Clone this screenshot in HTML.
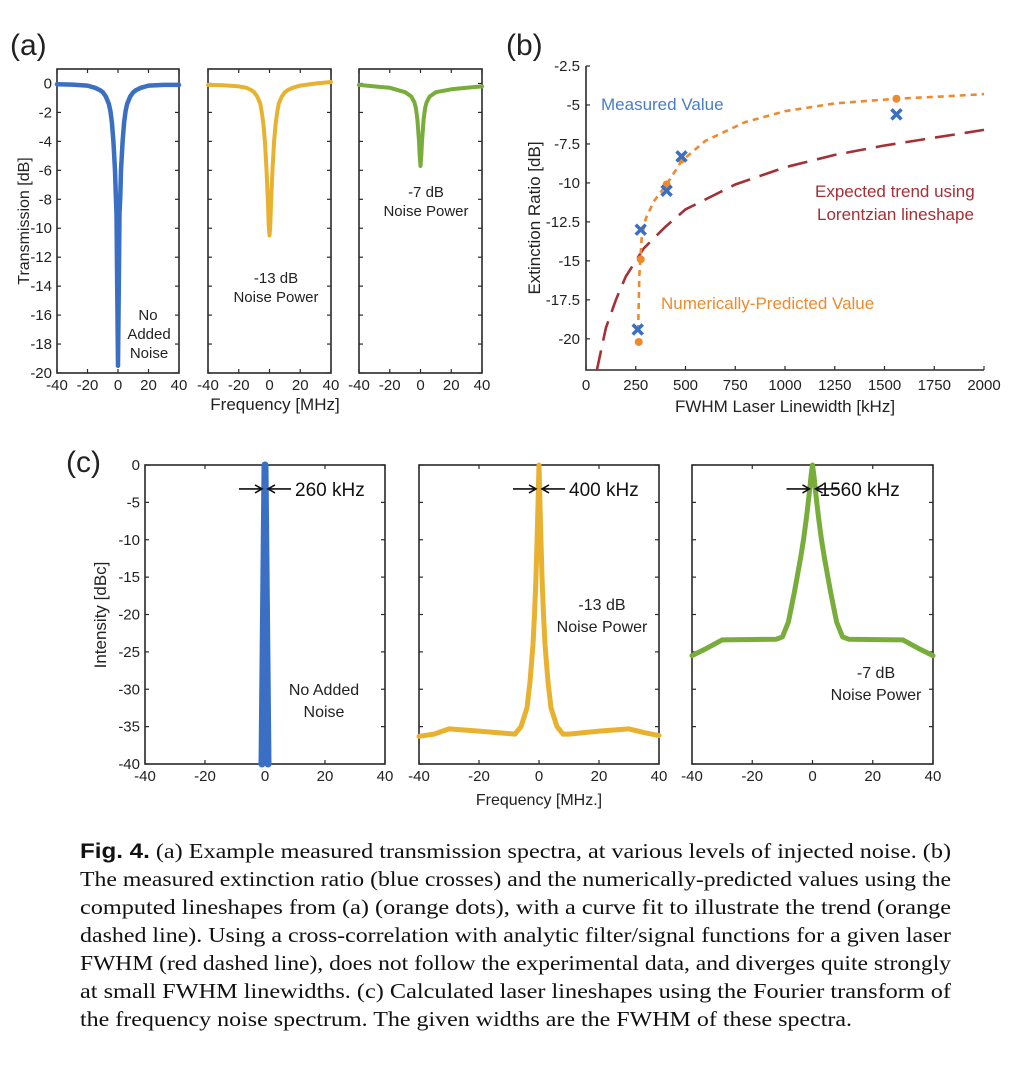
<!DOCTYPE html>
<html><head><meta charset="utf-8"><style>
body{margin:0;background:#fff;}
svg{display:block;font-family:"Liberation Sans",sans-serif;}
.tk{font-size:15px;fill:#222;}
.ax{fill:none;stroke:#2a2a2a;stroke-width:1.6;}
</style></head><body>
<svg id="fig" width="1033" height="1070" viewBox="0 0 1033 1070">
<rect width="1033" height="1070" fill="#fff"/>
<g id="pa"></g>
<g id="pb"></g>
<g id="pc"></g>
<g id="cap" font-family="'Liberation Serif',serif" font-size="21" fill="#111">
<text x="80" y="858" textLength="871" lengthAdjust="spacingAndGlyphs"><tspan font-family="'Liberation Sans',sans-serif" font-weight="bold">Fig. 4.</tspan> (a) Example measured transmission spectra, at various levels of injected noise. (b)</text>
<text x="80" y="886" textLength="871" lengthAdjust="spacingAndGlyphs">The measured extinction ratio (blue crosses) and the numerically-predicted values using the</text>
<text x="80" y="914" textLength="871" lengthAdjust="spacingAndGlyphs">computed lineshapes from (a) (orange dots), with a curve fit to illustrate the trend (orange</text>
<text x="80" y="942" textLength="871" lengthAdjust="spacingAndGlyphs">dashed line). Using a cross-correlation with analytic filter/signal functions for a given laser</text>
<text x="80" y="970" textLength="871" lengthAdjust="spacingAndGlyphs">FWHM (red dashed line), does not follow the experimental data, and diverges quite strongly</text>
<text x="80" y="998" textLength="871" lengthAdjust="spacingAndGlyphs">at small FWHM linewidths. (c) Calculated laser lineshapes using the Fourier transform of</text>
<text x="80" y="1026" textLength="772" lengthAdjust="spacingAndGlyphs">the frequency noise spectrum. The given widths are the FWHM of these spectra.</text>
</g>
</svg>
<script>
// ---- Panel (a) data ----
const aBlueF=[-40,-30,-20,-15,-12,-10,-8,-6,-5,-4,-3,-2,-1.5,-1,-0.5,0,0.5,1,1.5,2,3,4,5,6,8,10,12,15,20,30,40];
const aBlueT=[-0.05,-0.08,-0.15,-0.3,-0.45,-0.6,-0.9,-1.4,-1.9,-2.7,-4,-6,-7.5,-9,-14,-19.5,-14,-9,-7.8,-6,-4,-2.7,-1.9,-1.4,-0.9,-0.6,-0.45,-0.3,-0.15,-0.1,-0.1];
const aYelF=[-40,-30,-20,-15,-12,-10,-8,-6,-5,-4,-3,-2,-1,-0.5,0,0.5,1,2,3,4,5,6,8,10,12,15,20,30,40];
const aYelT=[-0.1,-0.12,-0.2,-0.3,-0.45,-0.6,-0.9,-1.4,-2,-2.8,-4,-5.8,-8.3,-9.8,-10.5,-9.8,-8.3,-5.8,-4,-2.8,-2,-1.4,-0.9,-0.6,-0.45,-0.3,-0.15,0,0.1];
const aGrnF=[-40,-30,-20,-10,-6,-4,-3,-2,-1,-0.5,0,0.5,1,2,3,4,6,10,20,30,40];
const aGrnT=[-0.1,-0.2,-0.3,-0.6,-0.9,-1.3,-1.7,-2.5,-4,-5,-5.7,-5,-4,-2.5,-1.7,-1.3,-0.9,-0.6,-0.4,-0.3,-0.2];
const aYTicks=[0,-2,-4,-6,-8,-10,-12,-14,-16,-18,-20];
const fTicks=[-40,-20,0,20,40];
// ---- Panel (b) data ----
const bMeasX=[260,275,405,480,1560];
const bMeasY=[-19.4,-13,-10.5,-8.3,-5.6];
const bPredX=[265,275,405,480,1560];
const bPredY=[-20.2,-14.9,-10.1,-8.5,-4.6];
const bFitX=[262,268,280,300,340,405,480,600,800,1000,1250,1560,1800,2000];
const bFitY=[-19.5,-16,-13.5,-12.3,-11.2,-10.1,-8.6,-7.3,-6.1,-5.4,-4.9,-4.6,-4.45,-4.3];
const bLorX=[55,100,150,200,290,400,500,750,1000,1250,1500,1750,2000];
const bLorY=[-22,-19.3,-17.5,-16,-14.2,-12.8,-11.7,-10.1,-9,-8.2,-7.6,-7.1,-6.6];
const bYTicks=[-2.5,-5,-7.5,-10,-12.5,-15,-17.5,-20];
const bXTicks=[0,250,500,750,1000,1250,1500,1750,2000];
// ---- Panel (c) data ----
const cBlueF=[-1,0,1];
const cBlueI=[-40,0,-40];
const cYelF=[-40,-35,-30,-20,-8,-6,-4,-3,-2,-1.5,-1,-0.5,0,0.5,1,1.5,2,3,4,6,8,10,20,30,35,40];
const cYelI=[-36.3,-36,-35.3,-35.6,-36,-35,-32.5,-29,-24,-20,-15,-8,0,-8,-15,-20,-24,-29,-32.5,-35,-36,-36,-35.6,-35.3,-35.8,-36.2];
const cGrnF=[-40,-35,-30,-12,-10,-8,-6,-4,-3,-2,-1,-0.5,0,0.5,1,2,3,4,6,8,10,12,30,35,40];
const cGrnI=[-25.5,-24.5,-23.4,-23.3,-23,-21,-17,-12.5,-10,-7,-3.5,-1.5,0,-1.5,-3.5,-7,-10,-12.5,-17,-21,-23,-23.3,-23.4,-24.5,-25.5];
const cYTicks=[0,-5,-10,-15,-20,-25,-30,-35,-40];
const cWidths=["260 kHz","400 kHz","1560 kHz"];

const NS="http://www.w3.org/2000/svg";
function mk(parent,tag,attrs,txt){const e=document.createElementNS(NS,tag);for(const k in attrs)e.setAttribute(k,attrs[k]);if(txt!==undefined)e.textContent=txt;parent.appendChild(e);return e;}
function lin(d0,d1,r0,r1){return v=>r0+(v-d0)*(r1-r0)/(d1-d0);}
function pathD(xs,ys,sx,sy){return xs.map((x,i)=>(i?'L':'M')+sx(x).toFixed(1)+' '+sy(ys[i]).toFixed(1)).join(' ');}

function smallPanel(g,x0,x1,y0,y1,ymin,ymax,yt,showY,fx,fy,col,sw,name){
  const sx=lin(-40,40,x0,x1), sy=lin(ymax,ymin,y0,y1);
  const box=mk(g,'rect',{x:x0,y:y0,width:x1-x0,height:y1-y0,class:'ax'});
  
  
  fTicks.forEach(t=>{mk(g,'line',{x1:sx(t),x2:sx(t),y1:y1,y2:y1-4,stroke:'#2a2a2a','stroke-width':1.2});mk(g,'line',{x1:sx(t),x2:sx(t),y1:y0,y2:y0+4,stroke:'#2a2a2a','stroke-width':1.2});
    const l=mk(g,'text',{x:sx(t),y:y1+17,'text-anchor':'middle',class:'tk'},String(t));
    
    });
  yt.forEach(t=>{mk(g,'line',{x1:x0,x2:x0+4,y1:sy(t),y2:sy(t),stroke:'#2a2a2a','stroke-width':1.2});mk(g,'line',{x1:x1,x2:x1-4,y1:sy(t),y2:sy(t),stroke:'#2a2a2a','stroke-width':1.2});
    if(showY){const l=mk(g,'text',{x:x0-5,y:sy(t)+5,'text-anchor':'end',class:'tk'},String(t));
    
    }});
  const p=mk(g,'path',{d:pathD(fx,fy,sx,sy),fill:'none',stroke:col,'stroke-width':sw,'stroke-linejoin':'round','stroke-linecap':'round'});
  
  
  return {sx,sy};
}

// Panel a
const pa=document.getElementById('pa');
mk(pa,'text',{x:10,y:55,'font-size':30,fill:'#222'},'(a)');
smallPanel(pa,57,179,69,373,-20,1,aYTicks,true,aBlueF,aBlueT,'#3a6fc4',4.5,'a-no-noise');
smallPanel(pa,208,331,69,373,-20,1,aYTicks,false,aYelF,aYelT,'#e8b130',4,'a-13db');
smallPanel(pa,359,482,69,373,-20,1,aYTicks,false,aGrnF,aGrnT,'#78ad3c',4,'a-7db');
[[148,320,'No'],[149,339,'Added'],[149,358,'Noise'],[276,283,'-13 dB'],[276,302,'Noise Power'],[426,197,'-7 dB'],[426,216,'Noise Power']].forEach(a=>{
  const t=mk(pa,'text',{x:a[0],y:a[1],'text-anchor':'middle',class:'tk',fill:'#333'},a[2]);
  
  });
let t=mk(pa,'text',{transform:'translate(29,221) rotate(-90)','text-anchor':'middle','font-size':16,fill:'#222'},'Transmission [dB]');


t=mk(pa,'text',{x:275,y:410,'text-anchor':'middle','font-size':17,fill:'#222'},'Frequency [MHz]');



// Panel b
const pb=document.getElementById('pb');
mk(pb,'text',{x:506,y:55,'font-size':30,fill:'#222'},'(b)');
const bx=lin(0,2000,586,984), by=lin(-2.5,-22,66,370);
mk(pb,'path',{d:'M586 66 L586 370 L984 370',class:'ax'});
bXTicks.forEach(v=>{mk(pb,'line',{x1:bx(v),x2:bx(v),y1:370,y2:366,stroke:'#2a2a2a','stroke-width':1.2});
  const l=mk(pb,'text',{x:bx(v),y:390,'text-anchor':'middle',class:'tk'},String(v));
  
  });
bYTicks.forEach(v=>{mk(pb,'line',{x1:586,x2:590,y1:by(v),y2:by(v),stroke:'#2a2a2a','stroke-width':1.2});
  const l=mk(pb,'text',{x:580,y:by(v)+5,'text-anchor':'end',class:'tk'},String(v));
  
  });
const clip=mk(pb,'clipPath',{id:'bclip'});mk(clip,'rect',{x:586,y:60,width:400,height:310});
let p=mk(pb,'path',{d:pathD(bLorX,bLorY,bx,by),fill:'none',stroke:'#a53035','stroke-width':2.6,'stroke-dasharray':'20 10','clip-path':'url(#bclip)'});


p=mk(pb,'path',{d:pathD(bFitX,bFitY,bx,by),fill:'none',stroke:'#ee8a2c','stroke-width':2.6,'stroke-dasharray':'6 5'});


bPredX.forEach((x,i)=>{const c=mk(pb,'circle',{cx:bx(x),cy:by(bPredY[i]),r:4,fill:'#ee8a2c'});
  
  });
bMeasX.forEach((x,i)=>{const X=bx(x),Y=by(bMeasY[i]);
  const c=mk(pb,'path',{d:`M${X-5} ${Y-5}L${X+5} ${Y+5}M${X-5} ${Y+5}L${X+5} ${Y-5}`,stroke:'#3a6fc4','stroke-width':3.5});
  
  });
[[601,110,'Measured Value','#4a7cc6','start'],[815,197,'Expected trend using','#a53035','start'],[817,220,'Lorentzian lineshape','#a53035','start'],[661,309,'Numerically-Predicted Value','#ee8a2c','start']].forEach(a=>{
  const l=mk(pb,'text',{x:a[0],y:a[1],'font-size':17,fill:a[3]},a[2]);
  
  });
t=mk(pb,'text',{transform:'translate(540,218) rotate(-90)','text-anchor':'middle','font-size':17,fill:'#222'},'Extinction Ratio [dB]');


t=mk(pb,'text',{x:785,y:412,'text-anchor':'middle','font-size':17,fill:'#222'},'FWHM Laser Linewidth [kHz]');



// Panel c
const pc=document.getElementById('pc');
mk(pc,'text',{x:66,y:472,'font-size':30,fill:'#222'},'(c)');
const cp=[[145,385,cBlueF,cBlueI,'#3a6fc4',7,'c-no-noise'],[419,659,cYelF,cYelI,'#e8b130',5,'c-13db'],[692,933,cGrnF,cGrnI,'#78ad3c',5,'c-7db']];
cp.forEach((c,i)=>{
  const s=smallPanel(pc,c[0],c[1],465,764,-40,0,cYTicks,i===0,c[2],c[3],c[4],c[5],c[6]);
  const X=s.sx(0), Y=s.sy(-3.2);
  mk(pc,'path',{d:`M${X-26} ${Y}L${X-4} ${Y}M${X-10} ${Y-4}L${X-3} ${Y}L${X-10} ${Y+4}M${X+26} ${Y}L${X+4} ${Y}M${X+10} ${Y-4}L${X+3} ${Y}L${X+10} ${Y+4}`,stroke:'#111','stroke-width':1.6,fill:'none'});
  const l=mk(pc,'text',{x:X+(i===2?7:30),y:Y+7,'font-size':19,fill:'#111'},cWidths[i]);
  
  
});
[[324,695,'No Added'],[324,717,'Noise'],[602,610,'-13 dB'],[602,632,'Noise Power'],[876,678,'-7 dB'],[876,700,'Noise Power']].forEach(a=>{
  const l=mk(pc,'text',{x:a[0],y:a[1],'text-anchor':'middle','font-size':16,fill:'#222'},a[2]);
  
  });
t=mk(pc,'text',{transform:'translate(106,615) rotate(-90)','text-anchor':'middle','font-size':17,fill:'#222'},'Intensity [dBc]');


t=mk(pc,'text',{x:539,y:805,'text-anchor':'middle','font-size':16,fill:'#222'},'Frequency [MHz.]');


</script>
</body></html>
